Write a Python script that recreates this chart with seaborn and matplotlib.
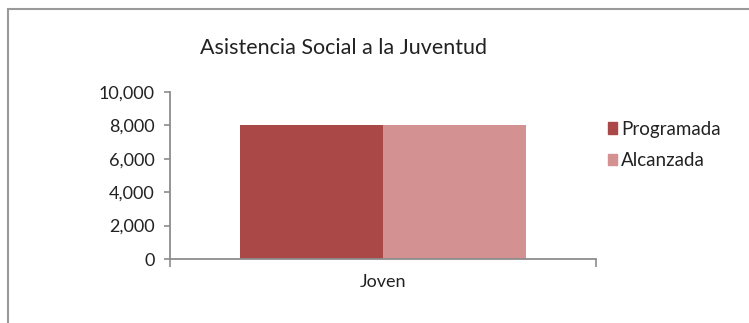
import matplotlib
matplotlib.use("Agg")
import matplotlib.pyplot as plt
from matplotlib.patches import Rectangle
from matplotlib.ticker import FuncFormatter
import pandas as pd
import seaborn as sns

categorias = ["Joven"]
series = ["Programada", "Alcanzada"]
programada = [8000]
alcanzada = [8000]
colores = ["#A94846", "#D39191"]

df = pd.DataFrame({
    "categoria": categorias * 2,
    "serie": [series[0]] * len(categorias) + [series[1]] * len(categorias),
    "valor": programada + alcanzada,
})

sns.set_theme(style="white")
plt.rcParams["font.family"] = ["Lato", "DejaVu Sans"]

fig = plt.figure(figsize=(7.49, 3.23), dpi=100)
ax = fig.add_axes([170 / 749, 1 - 259 / 323, 426 / 749, 167 / 323])

sns.barplot(data=df, x="categoria", y="valor", hue="serie", palette=colores,
            width=0.67, gap=0, ax=ax, legend=False, saturation=1, linewidth=0)

ax.set_xlim(-0.5, 0.5)
ax.set_ylim(0, 10000)
ax.set_yticks(range(0, 10001, 2000))
ax.yaxis.set_major_formatter(FuncFormatter(lambda v, p: f"{int(v):,}"))
ax.set_xlabel("")
ax.set_ylabel("")

for s in ["top", "right"]:
    ax.spines[s].set_visible(False)
for s in ["left", "bottom"]:
    ax.spines[s].set_color("#8c8c8c")
    ax.spines[s].set_linewidth(1.3)
    ax.spines[s].set_zorder(5)

ax.tick_params(axis="y", direction="out", length=4, width=1.2, color="#8c8c8c",
               left=True, labelsize=13, labelcolor="#222222", pad=7)
ax.set_xticks([-0.5, 0.5], minor=True)
ax.tick_params(axis="x", which="minor", direction="out", length=6, width=1.2,
               color="#8c8c8c", bottom=True)
ax.tick_params(axis="x", which="major", length=0, labelsize=13,
               labelcolor="#222222", pad=11)

fig.text(344 / 749, 1 - 48 / 323, "Asistencia Social a la Juventud",
         ha="center", va="center", fontsize=15.5, color="#222222")

handles = [Rectangle((0, 0), 1, 1, color=c) for c in colores]
fig.legend(handles, series, loc="upper left", bbox_to_anchor=(608 / 749, 1 - 121 / 323),
           frameon=False, fontsize=13.5, handlelength=0.5, handleheight=0.6,
           handletextpad=0.2, labelspacing=0.75, labelcolor="#222222",
           borderpad=0, borderaxespad=0)

fig.patches.append(Rectangle((8 / 749, -0.05), 1.0, 1 - 9 / 323 + 0.05,
                             transform=fig.transFigure, fill=False,
                             edgecolor="#9a9a9a", linewidth=1.5))

fig.savefig("out.png", dpi=100)
